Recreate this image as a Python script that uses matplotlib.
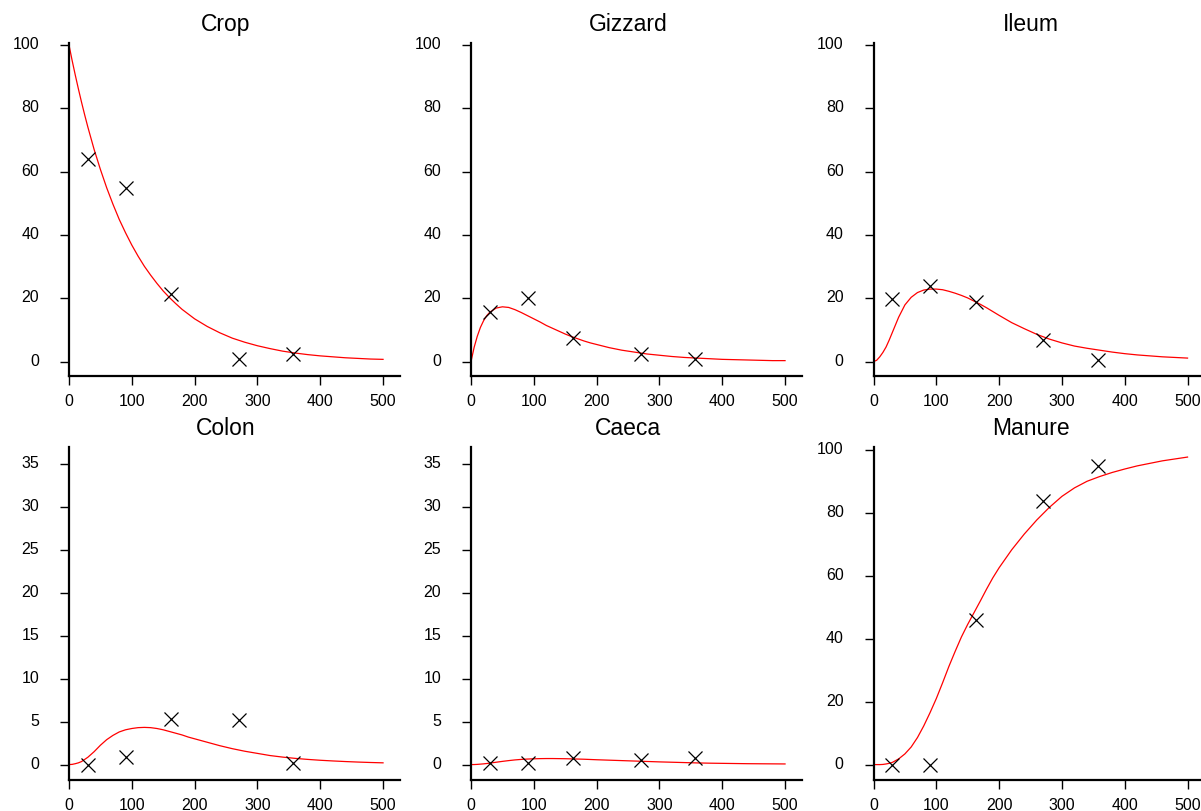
import matplotlib
matplotlib.use("Agg")
import matplotlib.pyplot as plt
from matplotlib.transforms import ScaledTranslation

plt.rcParams["font.family"] = ["Liberation Sans", "DejaVu Sans"]

# sampling times of the observations and of the fitted curves
t_obs = [30, 90, 163, 270, 357]
t_fit = [0, 5, 10, 15, 20, 25, 30, 40, 50, 60, 70, 80, 90, 100, 110, 120, 130,
         140, 150, 160, 170, 180, 190, 200, 220, 240, 260, 280, 300, 320, 340,
         360, 380, 400, 420, 440, 460, 480, 500]

# observed values
crop_obs = [63.9, 54.8, 21.4, 0.8, 2.4]
gizzard_obs = [15.8, 20.1, 7.6, 2.3, 0.75]
ileum_obs = [19.8, 23.8, 18.7, 6.9, 0.5]
colon_obs = [0.0, 0.9, 5.3, 5.2, 0.16]
caeca_obs = [0.19, 0.19, 0.74, 0.58, 0.78]
manure_obs = [0.0, 0.0, 46.1, 83.9, 94.9]

# fitted curves
crop_fit = [100, 95.1, 90.5, 86.1, 81.9, 77.9, 74.1, 67.0, 60.7, 54.9, 49.7,
            44.9, 40.7, 36.8, 33.3, 30.1, 27.3, 24.7, 22.3, 20.2, 18.3, 16.5,
            15.0, 13.5, 11.1, 9.1, 7.4, 6.1, 5.0, 4.1, 3.3, 2.7, 2.2, 1.8, 1.5,
            1.2, 1.0, 0.8, 0.7]
gizzard_fit = [0, 4.5, 8.0, 10.8, 12.9, 14.5, 15.6, 16.9, 17.3, 17.1, 16.4,
               15.5, 14.5, 13.5, 12.5, 11.4, 10.5, 9.6, 8.7, 7.9, 7.2, 6.5, 5.9,
               5.4, 4.4, 3.6, 3.0, 2.4, 2.0, 1.6, 1.3, 1.1, 0.9, 0.7, 0.6, 0.5,
               0.4, 0.3, 0.3]
ileum_fit = [0, 0.4, 1.5, 2.9, 4.6, 6.8, 9.2, 14.0, 17.9, 20.3, 21.8, 22.6,
             22.9, 22.9, 22.7, 22.2, 21.6, 20.9, 20.1, 19.1, 18.1, 17.0, 15.8,
             14.6, 12.3, 10.4, 8.6, 7.1, 5.9, 4.9, 4.2, 3.6, 3.0, 2.5, 2.1, 1.8,
             1.5, 1.3, 1.1]
colon_fit = [0, 0.02, 0.1, 0.2, 0.35, 0.6, 0.85, 1.5, 2.25, 2.9, 3.4, 3.8, 4.05,
             4.2, 4.3, 4.33, 4.3, 4.2, 4.05, 3.85, 3.65, 3.45, 3.2, 3.0, 2.6,
             2.2, 1.85, 1.55, 1.3, 1.05, 0.87, 0.72, 0.6, 0.5, 0.42, 0.35, 0.29,
             0.24, 0.2]
caeca_fit = [0, 0.0, 0.02, 0.05, 0.08, 0.12, 0.17, 0.27, 0.37, 0.46, 0.54, 0.6,
             0.64, 0.67, 0.69, 0.7, 0.7, 0.69, 0.68, 0.66, 0.64, 0.62, 0.59,
             0.56, 0.51, 0.46, 0.41, 0.36, 0.31, 0.27, 0.23, 0.19, 0.16, 0.14,
             0.12, 0.1, 0.09, 0.08, 0.07]
manure_fit = [0, 0.0, 0.0, 0.05, 0.2, 0.4, 0.7, 1.8, 3.4, 5.6, 8.6, 12.3, 16.5,
              21.0, 26.0, 31.2, 36.0, 40.6, 44.6, 48.3, 52.0, 55.8, 59.4, 62.6,
              68.3, 73.3, 77.8, 81.8, 85.3, 88.0, 90.1, 91.6, 92.9, 94.0, 95.0,
              95.8, 96.6, 97.2, 97.8]

panels = [
    ("Crop", crop_obs, crop_fit, (-4.4, 100.8), range(0, 101, 20)),
    ("Gizzard", gizzard_obs, gizzard_fit, (-4.4, 100.8), range(0, 101, 20)),
    ("Ileum", ileum_obs, ileum_fit, (-4.4, 100.8), range(0, 101, 20)),
    ("Colon", colon_obs, colon_fit, (-1.8, 37.0), range(0, 36, 5)),
    ("Caeca", caeca_obs, caeca_fit, (-1.8, 37.0), range(0, 36, 5)),
    ("Manure", manure_obs, manure_fit, (-4.9, 101.0), range(0, 101, 20)),
]

W, H = 1201, 812
fig = plt.figure(figsize=(W / 100, H / 100), dpi=100)

lefts = [69, 471, 873.5]
tops = [43.5, 448]
aw, ah = 331, 333
xmax = 527
raise_lbl = ScaledTranslation(0, 3 / 100, fig.dpi_scale_trans)

for i, (name, obs, fit, ylim, yt) in enumerate(panels):
    r, c = divmod(i, 3)
    ax = fig.add_axes([lefts[c] / W, 1 - (tops[r] + ah) / H, aw / W, ah / H])
    ax.plot(t_fit, fit, color="red", lw=0.9)
    ax.plot(t_obs, obs, "x", color="black", ms=9.5, mew=0.9)
    ax.set_xlim(0, xmax)
    ax.set_ylim(*ylim)
    ax.set_xticks(range(0, 501, 100))
    ax.set_yticks(list(yt))
    for s in ("top", "right"):
        ax.spines[s].set_visible(False)
    for s in ("left", "bottom"):
        ax.spines[s].set_linewidth(1.6)
    ax.tick_params(axis="y", length=6.5, width=1.0, pad=15, labelsize=11.5)
    ax.tick_params(axis="x", length=6.5, width=1.0, pad=6, labelsize=11.5)
    for lbl in ax.get_yticklabels():
        lbl.set_transform(lbl.get_transform() + raise_lbl)
    ax.set_title(name, fontsize=16.5, x=250 / xmax, pad=9)

fig.savefig("out.png", dpi=100)
